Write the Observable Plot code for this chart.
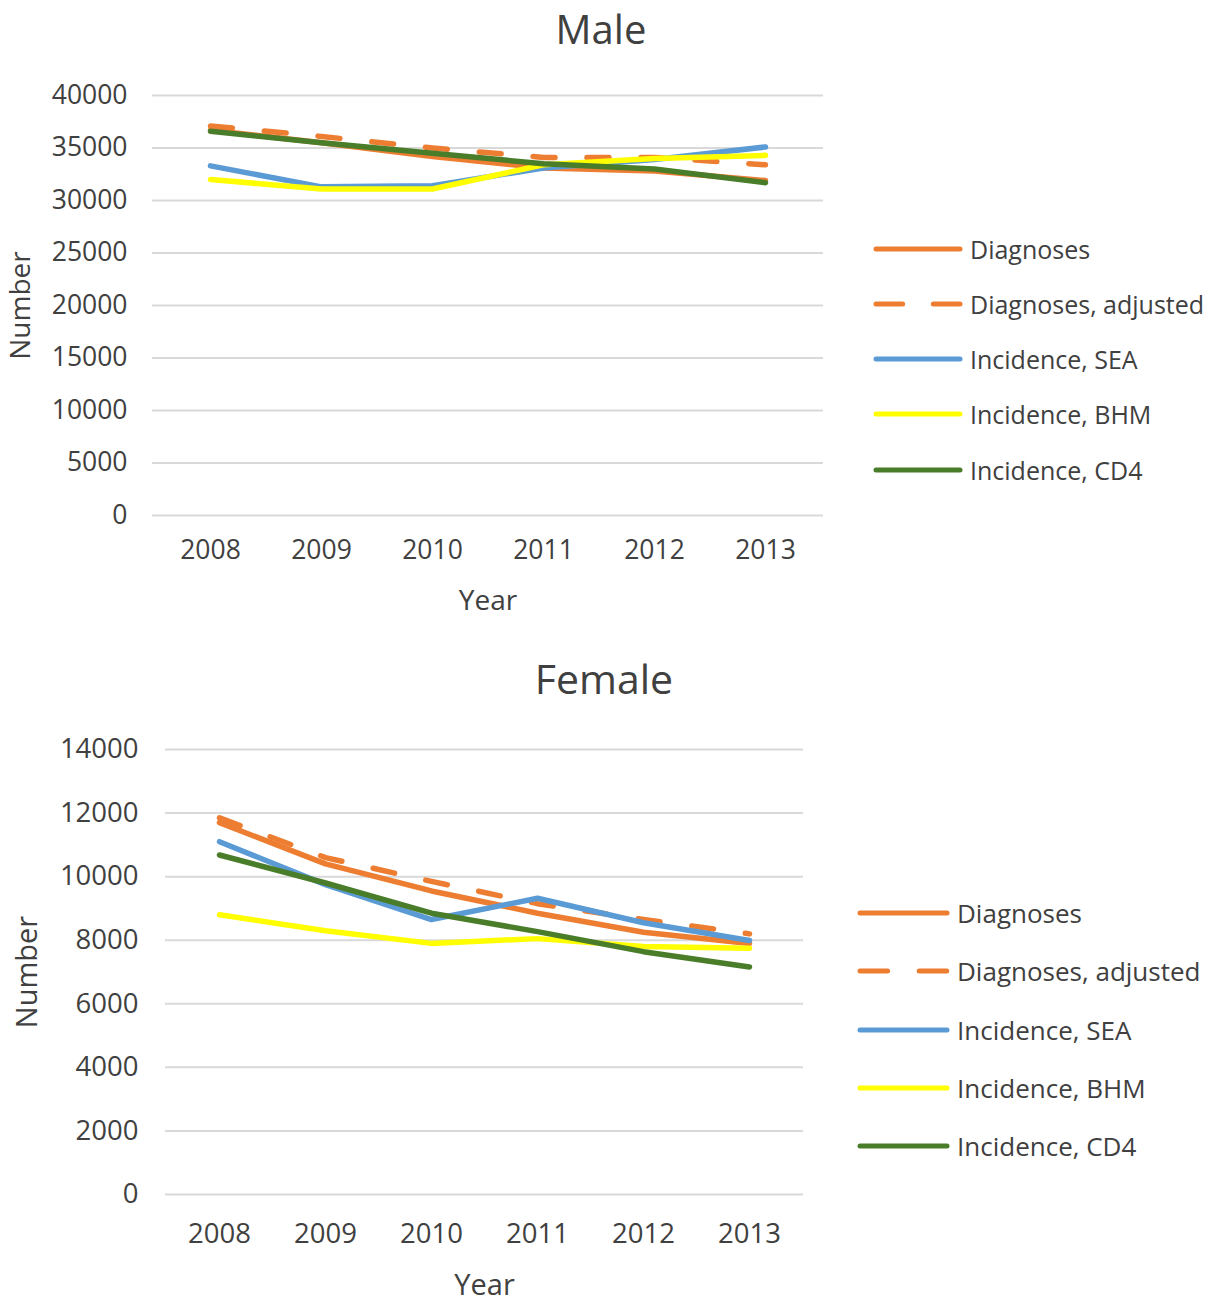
<!DOCTYPE html>
<html>
<head>
<meta charset="utf-8">
<script src="https://cdn.jsdelivr.net/npm/d3@7"></script>
<script src="https://cdn.jsdelivr.net/npm/@observablehq/plot@0.6"></script>
<style>
  html, body { margin: 0; padding: 0; background: #fff; }
  #page { position: relative; width: 1218px; height: 1300px; background: #fff; font-family: "Open Sans", sans-serif; color: #404040; }
  .title { position: absolute; text-align: center; font-size: 40px; line-height: 40px; color: #404040; white-space: nowrap; transform: translateX(-50%); }
  .chart { position: absolute; left: 0; }
  .legend { position: absolute; }
  .legend .row { display: flex; align-items: center; color: #404040; white-space: nowrap; }
  .legend svg { flex: none; margin-right: 8px; overflow: visible; }
</style>
</head>
<body>
<div id="page"></div>
<script>
// ---- data ----
const years = [2008, 2009, 2010, 2011, 2012, 2013];
const seriesNames = ["Diagnoses", "Diagnoses, adjusted", "Incidence, SEA", "Incidence, BHM", "Incidence, CD4"];
const seriesColors = ["#ED7D31", "#ED7D31", "#5B9BD5", "#FFFF00", "#4A7D2A"];
const seriesDashed = [false, true, false, false, false];

const maleDiagnoses = [36700, 35500, 34200, 33100, 32800, 31900];
const maleAdjusted  = [37100, 36100, 35000, 34100, 34100, 33400];
const maleSEA       = [33300, 31300, 31400, 33100, 33900, 35100];
const maleBHM       = [32000, 31100, 31100, 33400, 34000, 34300];
const maleCD4       = [36600, 35500, 34500, 33500, 33000, 31700];
const maleTicks = [0, 5000, 10000, 15000, 20000, 25000, 30000, 35000, 40000];

const femaleDiagnoses = [11700, 10400, 9550, 8850, 8250, 7900];
const femaleAdjusted  = [11850, 10600, 9850, 9150, 8650, 8200];
const femaleSEA       = [11100, 9750, 8650, 9320, 8550, 7990];
const femaleBHM       = [8800, 8300, 7900, 8050, 7800, 7750];
const femaleCD4       = [10680, 9800, 8850, 8270, 7640, 7160];
const femaleTicks = [0, 2000, 4000, 6000, 8000, 10000, 12000, 14000];

function toTable(seriesArrays) {
  const rows = [];
  seriesArrays.forEach((arr, s) => {
    arr.forEach((v, i) => rows.push({year: years[i], value: v, series: seriesNames[s]}));
  });
  return rows;
}

const page = document.getElementById("page");

function makeChart(cfg) {
  const table = toTable(cfg.series);
  const lineMarks = seriesNames.map((name, s) =>
    Plot.line(table.filter(d => d.series === name), {
      x: "year", y: "value",
      stroke: seriesColors[s],
      strokeWidth: 5.5,
      strokeLinecap: "round",
      strokeLinejoin: "round",
      strokeDasharray: seriesDashed[s] ? "22 32" : null
    })
  );
  const chart = Plot.plot({
    width: cfg.width,
    height: cfg.height,
    marginLeft: cfg.marginLeft,
    marginRight: 0,
    marginTop: cfg.marginTop,
    marginBottom: cfg.height - cfg.marginTop - cfg.frameH,
    style: {fontFamily: "Open Sans, sans-serif", fontSize: cfg.fontSize + "px", color: "#404040", background: "transparent", overflow: "visible"},
    x: {type: "point", domain: years, padding: 0.5},
    y: {domain: [0, cfg.ticks[cfg.ticks.length - 1]]},
    marks: [
      Plot.ruleY(cfg.ticks, {stroke: "#D9D9D9", strokeWidth: 2}),
      Plot.axisX({tickSize: 0, tickPadding: cfg.xPad, tickFormat: d => String(d), label: "Year", labelArrow: "none", labelAnchor: "center", labelOffset: cfg.xLabelOffset, fontSize: cfg.fontSize}),
      Plot.axisY({ticks: cfg.ticks, tickSize: 0, tickPadding: cfg.yPad, tickFormat: d => String(d), label: "Number", labelArrow: "none", labelAnchor: "center", labelOffset: cfg.yLabelOffset, fontSize: cfg.fontSize}),
      ...lineMarks
    ]
  });
  // axis label sizes, and strip any arrow
  chart.querySelectorAll("[aria-label='x-axis label'] text, [aria-label='y-axis label'] text").forEach(t => {
    t.setAttribute("font-size", cfg.labelSize);
    t.textContent = t.textContent.replace(/[\u2190-\u2193]/g, "").trim();
  });
  const wrap = document.createElement("div");
  wrap.className = "chart";
  wrap.style.top = cfg.top + "px";
  wrap.appendChild(chart);
  page.appendChild(wrap);

  const title = document.createElement("div");
  title.className = "title";
  title.textContent = cfg.title;
  title.style.left = cfg.titleX + "px";
  title.style.top = cfg.titleY + "px";
  title.style.fontSize = cfg.titleSize + "px";
  page.appendChild(title);

  const legend = document.createElement("div");
  legend.className = "legend";
  legend.style.left = cfg.legendX + "px";
  legend.style.top = cfg.legendY + "px";
  seriesNames.forEach((name, s) => {
    const row = document.createElement("div");
    row.className = "row";
    row.style.height = cfg.legendRow + "px";
    row.style.fontSize = cfg.legendSize + "px";
    const ns = "http://www.w3.org/2000/svg";
    const sv = document.createElementNS(ns, "svg");
    sv.setAttribute("width", cfg.swatch);
    sv.setAttribute("height", 10);
    const ln = document.createElementNS(ns, "line");
    ln.setAttribute("x1", 2); ln.setAttribute("x2", cfg.swatch - 2);
    ln.setAttribute("y1", 5); ln.setAttribute("y2", 5);
    ln.setAttribute("stroke", seriesColors[s]);
    ln.setAttribute("stroke-width", 5);
    ln.setAttribute("stroke-linecap", "round");
    if (seriesDashed[s]) ln.setAttribute("stroke-dasharray", (cfg.swatch / 3.3) + " " + (cfg.swatch / 3.3 + 4));
    sv.appendChild(ln);
    row.appendChild(sv);
    const tx = document.createElement("span");
    tx.textContent = name;
    row.appendChild(tx);
    legend.appendChild(row);
  });
  page.appendChild(legend);
}

makeChart({
  series: [maleDiagnoses, maleAdjusted, maleSEA, maleBHM, maleCD4],
  ticks: maleTicks,
  top: 60, width: 823, height: 580, marginLeft: 152, marginTop: 35, frameH: 420,
  fontSize: 26.5, labelSize: 28, xPad: 25, yPad: 25, xLabelOffset: 94, yLabelOffset: 142,
  title: "Male", titleX: 601, titleY: 9, titleSize: 40,
  legendX: 874, legendY: 221, legendRow: 55.25, legendSize: 25, swatch: 88
});

makeChart({
  series: [femaleDiagnoses, femaleAdjusted, femaleSEA, femaleBHM, femaleCD4],
  ticks: femaleTicks,
  top: 700, width: 803, height: 600, marginLeft: 165, marginTop: 49, frameH: 445,
  fontSize: 27.5, labelSize: 29, xPad: 29, yPad: 27, xLabelOffset: 100, yLabelOffset: 149,
  title: "Female", titleX: 604, titleY: 658, titleSize: 41,
  legendX: 858, legendY: 884, legendRow: 58.25, legendSize: 26, swatch: 91
});
</script>
</body>
</html>
